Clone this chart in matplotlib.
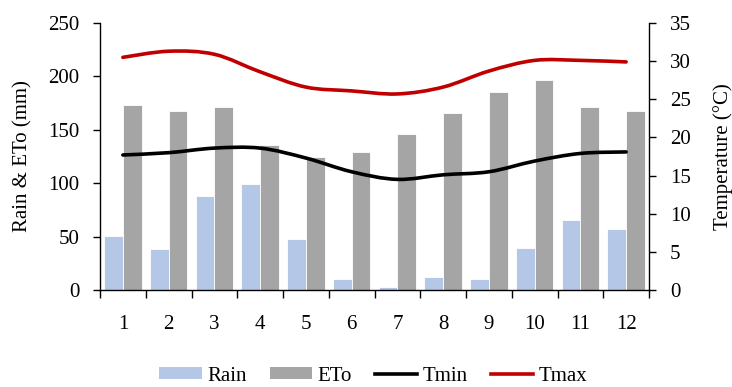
import numpy as np
import matplotlib
matplotlib.use("Agg")
import matplotlib.pyplot as plt
from matplotlib.path import Path
from matplotlib.patches import PathPatch
from matplotlib.lines import Line2D
from matplotlib.patches import Patch

plt.rcParams['font.family'] = ['Liberation Serif', 'DejaVu Serif']

months = [1, 2, 3, 4, 5, 6, 7, 8, 9, 10, 11, 12]
rain = [51, 38, 88, 99, 48, 10, 3, 12, 10, 39, 66, 57]
eto = [173, 168, 171, 136, 125, 129, 146, 166, 185, 197, 171, 168]
tmin = [17.7, 18.0, 18.6, 18.6, 17.3, 15.5, 14.5, 15.1, 15.5, 16.9, 17.9, 18.1]
tmax = [30.5, 31.3, 30.9, 28.6, 26.6, 26.1, 25.7, 26.6, 28.7, 30.1, 30.1, 29.9]

RAIN_C = '#B4C7E7'
ETO_C = '#A5A5A5'
TMIN_C = '#000000'
TMAX_C = '#C00000'
FS = 15


def smooth_path(x, y):
    """Catmull-Rom style smoothed path through the points (cubic Bezier)."""
    x = np.asarray(x, float)
    y = np.asarray(y, float)
    n = len(x)
    verts = [(x[0], y[0])]
    codes = [Path.MOVETO]
    t = 1.0 / 6.0
    for i in range(n - 1):
        p0 = (x[i - 1], y[i - 1]) if i > 0 else (x[i], y[i])
        p1 = (x[i], y[i])
        p2 = (x[i + 1], y[i + 1])
        p3 = (x[i + 2], y[i + 2]) if i + 2 < n else (x[i + 1], y[i + 1])
        c1 = (p1[0] + (p2[0] - p0[0]) * t, p1[1] + (p2[1] - p0[1]) * t)
        c2 = (p2[0] - (p3[0] - p1[0]) * t, p2[1] - (p3[1] - p1[1]) * t)
        verts += [c1, c2, p2]
        codes += [Path.CURVE4] * 3
    return Path(verts, codes)


fig = plt.figure(figsize=(7.32, 3.87), dpi=100)
ax = fig.add_axes([100 / 732, 1 - 290 / 387, 549 / 732, 267 / 387])

x = np.array(months, float)
w = 0.41
ax.bar(x - w / 2, rain, width=w, color=RAIN_C, edgecolor='white', linewidth=0.6, zorder=2)
ax.bar(x + w / 2, eto, width=w, color=ETO_C, edgecolor='white', linewidth=0.6, zorder=2)

ax.set_xlim(0.5, 12.5)
ax.set_ylim(0, 250)
ax.set_yticks(np.arange(0, 251, 50))
ax.set_xticks(x)
ax.set_xticklabels([str(m) for m in months])
ax.set_xticks(np.arange(0.5, 12.6, 1), minor=True)
ax.tick_params(axis='x', which='major', length=0, pad=18, labelsize=FS)
ax.tick_params(axis='x', which='minor', length=6, direction='out', width=1)
ax.tick_params(axis='y', length=5, direction='out', width=1, labelsize=FS, pad=10)
ax.set_ylabel('Rain & ETo (mm)', fontsize=FS, labelpad=11)
for s in ['top', 'right']:
    ax.spines[s].set_visible(False)
ax.spines['left'].set_linewidth(1)
ax.spines['bottom'].set_linewidth(1)

ax2 = ax.twinx()
ax2.set_ylim(0, 35)
ax2.set_yticks(np.arange(0, 36, 5))
ax2.tick_params(axis='y', length=5, direction='out', width=1, labelsize=FS, pad=10)
ax2.set_ylabel('Temperature (°C)', fontsize=FS, labelpad=16)
for s in ['top', 'left', 'bottom']:
    ax2.spines[s].set_visible(False)
ax2.spines['right'].set_linewidth(1)

for vals, col in [(tmin, TMIN_C), (tmax, TMAX_C)]:
    ax2.add_patch(PathPatch(smooth_path(x, vals), facecolor='none', edgecolor=col,
                            linewidth=2.6, capstyle='round', joinstyle='round', zorder=3))

handles = [Patch(facecolor=RAIN_C, label='Rain'),
           Patch(facecolor=ETO_C, label='ETo'),
           Line2D([], [], color=TMIN_C, lw=2.6, label='Tmin'),
           Line2D([], [], color=TMAX_C, lw=2.6, label='Tmax')]
fig.legend(handles=handles, loc='lower center', bbox_to_anchor=(0.51, -0.045), ncol=4,
           frameon=False, fontsize=FS, handlelength=2.05, handleheight=0.5,
           columnspacing=1.1, handletextpad=0.25)

fig.savefig('out.png', dpi=100)
